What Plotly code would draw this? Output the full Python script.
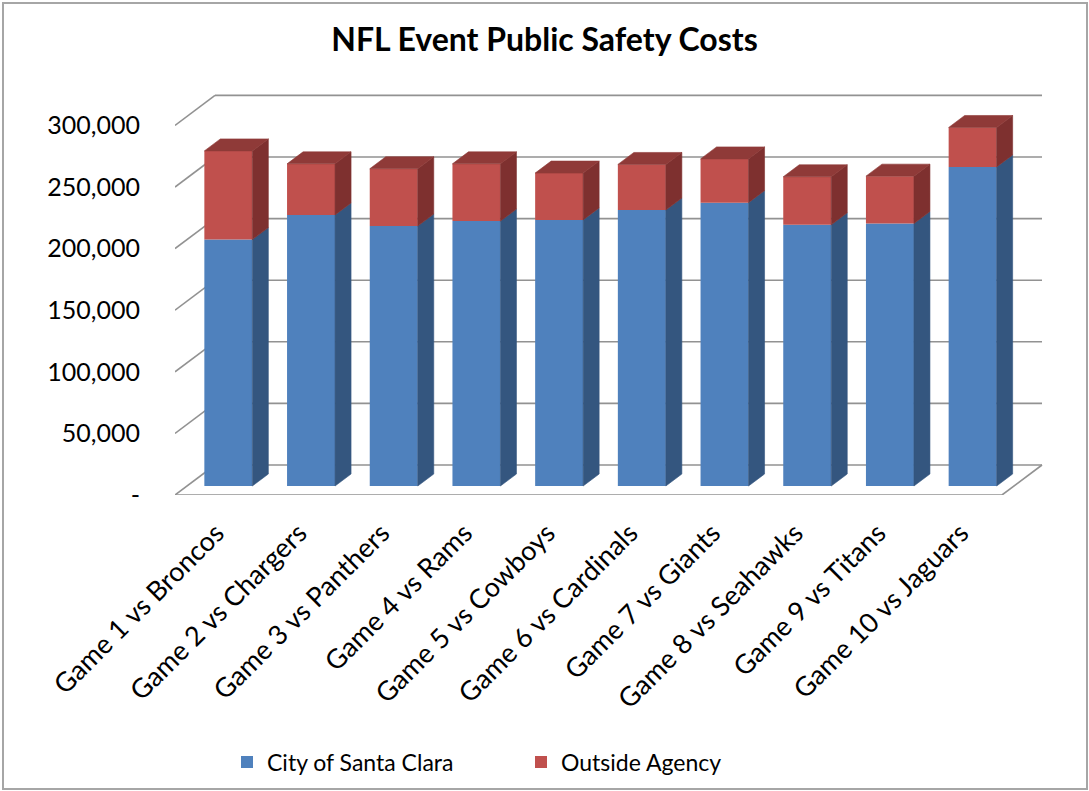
import plotly.graph_objects as go

# ---------------- data ----------------
games = ["Game 1 vs Broncos", "Game 2 vs Chargers", "Game 3 vs Panthers", "Game 4 vs Rams",
         "Game 5 vs Cowboys", "Game 6 vs Cardinals", "Game 7 vs Giants", "Game 8 vs Seahawks",
         "Game 9 vs Titans", "Game 10 vs Jaguars"]
city_of_santa_clara = [200000, 220000, 211000, 215000, 216000, 224000, 230000, 212000, 213000, 259000]
outside_agency = [72000, 41500, 46500, 46500, 38000, 37000, 35500, 39000, 38500, 32000]
y_tick_values = [0, 50000, 100000, 150000, 200000, 250000, 300000]
y_tick_labels = ["-", "50,000", "100,000", "150,000", "200,000", "250,000", "300,000"]

# ---------------- style / geometry ----------------
FONT = "Lato"
BLUE, BLUE_SIDE = "#4F81BD", "#34567F"
RED, RED_SIDE, RED_TOP = "#C0504D", "#7E302F", "#8F3A38"
GRID = "#929292"
W, H = 1089, 791
L, R, T, B = 175, 44, 80, 296
PX_PER_X = 82.7          # pixels per category
PX_PER_Y = 0.001232      # pixels per value unit
WALL_DX = 40 / PX_PER_X  # oblique depth of the floor (x units)
WALL_DY = 30 / PX_PER_Y  # oblique depth of the floor (y units)
BAR_FRONT, BAR_DEPTH = 0.3, 0.4
BAR_W = 48 / PX_PER_X

n = len(games)
idx = list(range(n))
fdx, fdy = WALL_DX * BAR_FRONT, WALL_DY * BAR_FRONT
ddx, ddy = WALL_DX * BAR_DEPTH, WALL_DY * BAR_DEPTH

fig = go.Figure()

# front faces (stacked)
fig.add_trace(go.Bar(x=[i + fdx for i in idx], y=city_of_santa_clara, base=[fdy] * n,
                     width=BAR_W, marker=dict(color=BLUE, line=dict(width=0)),
                     name="City of Santa Clara", hoverinfo="skip"))
fig.add_trace(go.Bar(x=[i + fdx for i in idx], y=outside_agency,
                     base=[fdy + c for c in city_of_santa_clara],
                     width=BAR_W, marker=dict(color=RED, line=dict(width=0)),
                     name="Outside Agency", hoverinfo="skip"))

# side and top faces
def side_poly(xr, y0, y1):
    return ([xr, xr + ddx, xr + ddx, xr, xr, None],
            [y0, y0 + ddy, y1 + ddy, y1, y0, None])

bx, by, rx, ry, tx, ty = [], [], [], [], [], []
for i in idx:
    xr = i + fdx + BAR_W / 2
    xl = xr - BAR_W
    b0 = fdy
    t0 = fdy + city_of_santa_clara[i]
    t1 = t0 + outside_agency[i]
    px, py = side_poly(xr, b0, t0); bx += px; by += py
    px, py = side_poly(xr, t0, t1); rx += px; ry += py
    tx += [xl, xl + ddx, xr + ddx, xr, xl, None]
    ty += [t1, t1 + ddy, t1 + ddy, t1, t1, None]

for xs, ys, col in [(bx, by, BLUE_SIDE), (rx, ry, RED_SIDE), (tx, ty, RED_TOP)]:
    fig.add_trace(go.Scatter(x=xs, y=ys, mode="lines", fill="toself", fillcolor=col,
                             line=dict(color=col, width=0.6), showlegend=False,
                             hoverinfo="skip"))

# wall / floor gridlines
shapes = []
x_left, x_right = -0.5, n - 0.5
for v in y_tick_values:
    shapes.append(dict(type="line", xref="x", yref="y", layer="below",
                       x0=x_left + WALL_DX, y0=v + WALL_DY, x1=x_right + WALL_DX, y1=v + WALL_DY,
                       line=dict(color=GRID, width=1.6)))
    shapes.append(dict(type="line", xref="x", yref="y", layer="below",
                       x0=x_left, y0=v, x1=x_left + WALL_DX, y1=v + WALL_DY,
                       line=dict(color=GRID, width=1.6)))
# floor front and right edges
shapes.append(dict(type="line", xref="x", yref="y", layer="below",
                   x0=x_left, y0=0, x1=x_right, y1=0, line=dict(color=GRID, width=1.6)))
shapes.append(dict(type="line", xref="x", yref="y", layer="below",
                   x0=x_right, y0=0, x1=x_right + WALL_DX, y1=WALL_DY,
                   line=dict(color=GRID, width=1.6)))
# chart border
pw, ph = W - L - R, H - T - B
shapes.append(dict(type="rect", xref="paper", yref="paper", layer="above",
                   x0=(3 - L) / pw, x1=(1087 - L) / pw,
                   y0=(H - B - 789) / ph, y1=(H - B - 3) / ph,
                   line=dict(color="#A6A6A6", width=2), fillcolor="rgba(0,0,0,0)"))

fig.update_layout(
    width=W, height=H,
    margin=dict(l=L, r=R, t=T, b=B, autoexpand=False),
    paper_bgcolor="white", plot_bgcolor="white",
    barmode="overlay",
    shapes=shapes,
    title=dict(text="<b>NFL Event Public Safety Costs</b>", x=0.5, xref="container",
               y=1 - 40 / H, yref="container", xanchor="center", yanchor="middle",
               font=dict(family=FONT, size=32, color="black")),
    font=dict(family=FONT, color="black"),
    showlegend=True,
    legend=dict(orientation="h", x=(227 - L) / pw, xanchor="left",
                y=(H - B - 762) / ph, yanchor="middle",
                font=dict(family=FONT, size=23, color="black"),
                entrywidth=249, entrywidthmode="pixels",
                bgcolor="rgba(0,0,0,0)"),
    xaxis=dict(range=[-0.5, -0.5 + pw / PX_PER_X], tickmode="array", tickvals=idx,
               ticktext=games, tickangle=-45, showgrid=False, zeroline=False,
               showline=False, ticks="", ticklabelstandoff=16, automargin=False,
               tickfont=dict(family=FONT, size=27, color="black"), fixedrange=True),
    yaxis=dict(range=[0, ph / PX_PER_Y], tickmode="array", tickvals=y_tick_values,
               ticktext=y_tick_labels, showgrid=False, zeroline=False, showline=False,
               ticks="", ticklabelstandoff=34, automargin=False,
               tickfont=dict(family=FONT, size=25, color="black"), fixedrange=True),
)

fig.write_html("out.html", config={"displayModeBar": False},
               post_script="document.body.style.margin='0px';document.body.style.overflow='hidden';")
